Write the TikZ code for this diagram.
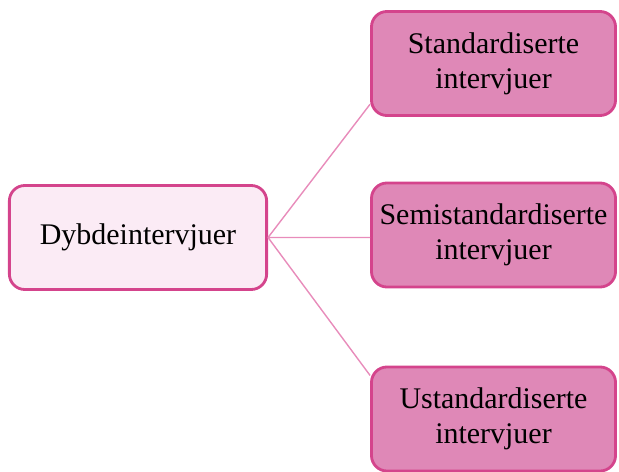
\documentclass[tikz,border=0pt]{standalone}
\usepackage{fontspec}
\setmainfont{Liberation Serif}
\definecolor{rim}{RGB}{212,68,140}
\definecolor{paleFill}{RGB}{251,235,245}
\definecolor{darkFill}{RGB}{223,136,183}
\definecolor{link}{RGB}{232,140,187}
\tikzset{
	parentbox/.style={draw=rim,fill=paleFill,line width=2pt,rounded corners=11pt,
		minimum width=6.43cm,minimum height=2.6cm,font=\fontsize{21.3}{25}\selectfont},
	childbox/.style={draw=rim,fill=darkFill,line width=2pt,rounded corners=11pt,
		minimum width=6.1cm,minimum height=2.6cm,align=center,
		font=\fontsize{21.3}{25}\selectfont},
	link/.style={draw=link,line width=1pt}
}

\begin{document}
\begin{tikzpicture}[x=0.025cm,y=-0.025cm]
	\useasboundingbox (0,0) rectangle (619,472);
	\node[parentbox] (D) at (138,237.5) {Dybdeintervjuer};
	\node[childbox] (S) at (493.5,63.5) {Standardiserte\\intervjuer};
	\node[childbox] (M) at (493.5,235) {Semistandardiserte\\intervjuer};
	\node[childbox] (U) at (493.5,419) {Ustandardiserte\\intervjuer};
	\draw[link] (D.east) -- ([yshift=9pt]S.south west)
		(D.east) -- (D.east -| M.west)
		(D.east) -- ([yshift=-7pt]U.north west);
\end{tikzpicture}
\end{document}
